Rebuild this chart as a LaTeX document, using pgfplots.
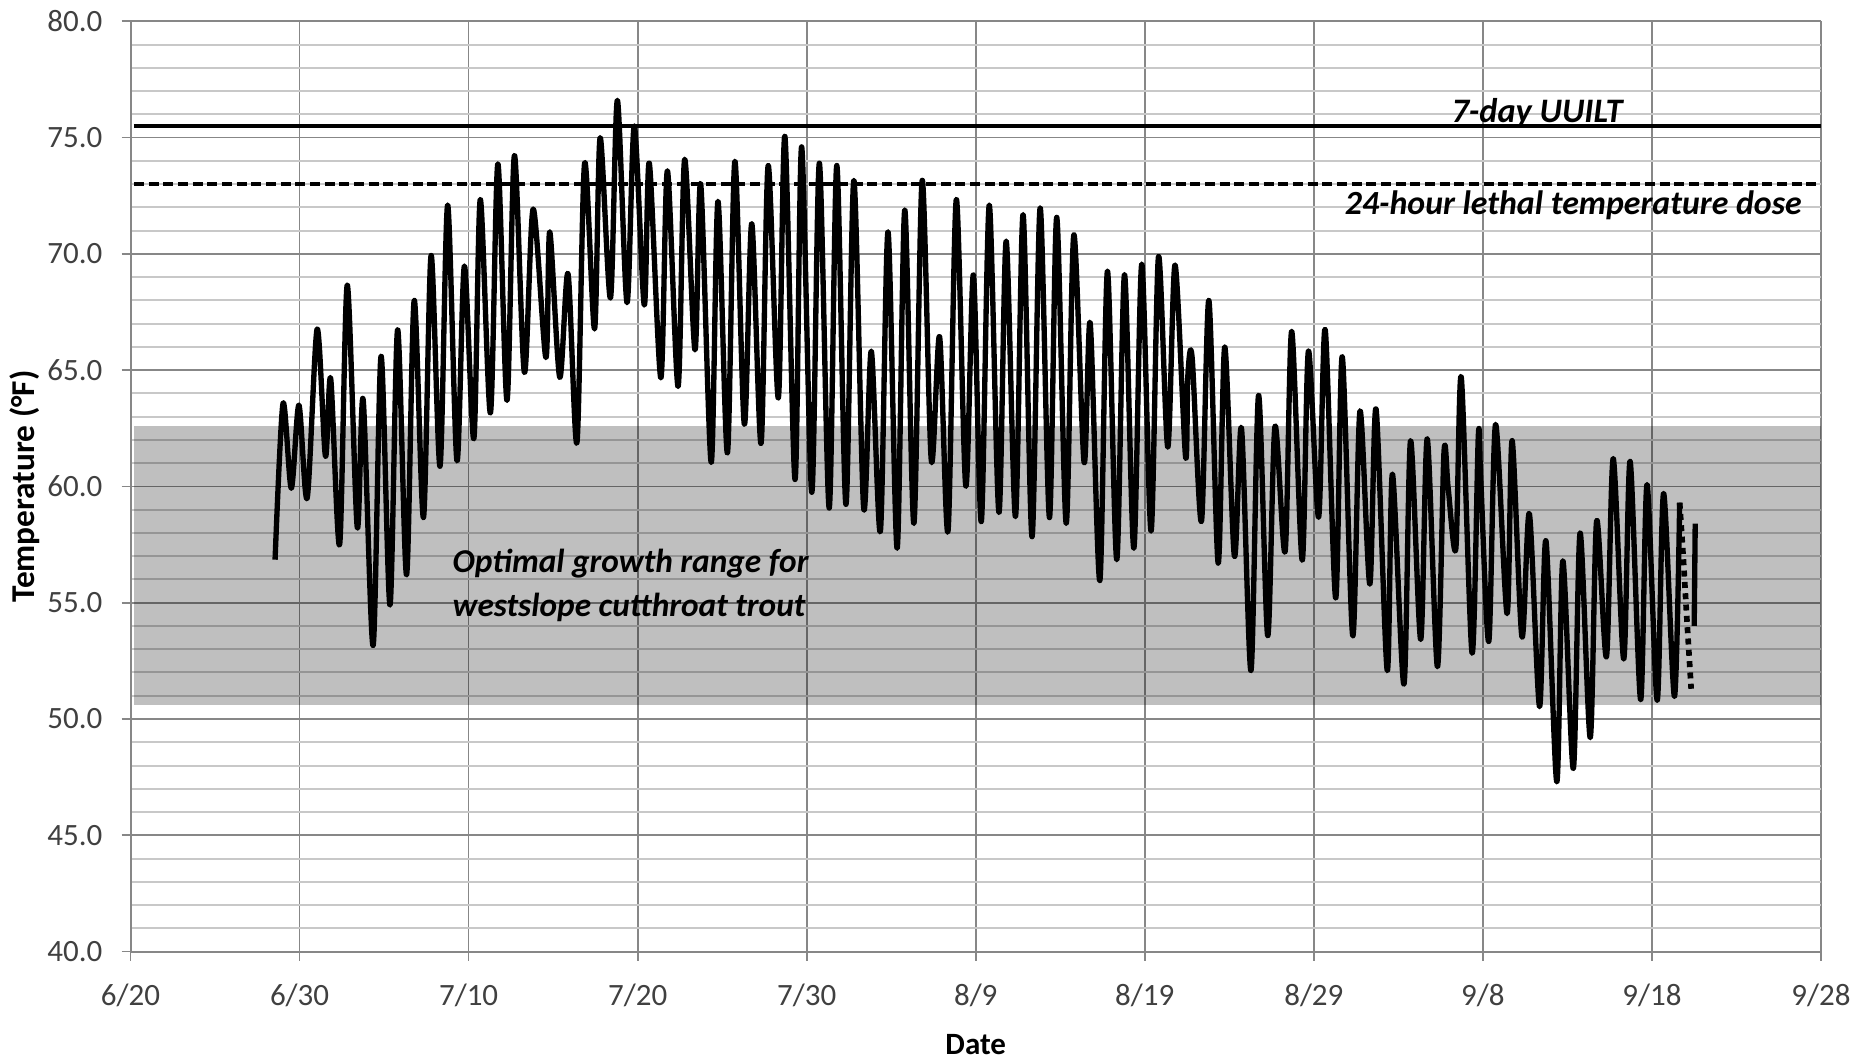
\documentclass[border=0pt]{standalone}
\usepackage{pgfplots}
\pgfplotsset{compat=1.18}
\usepackage{fontspec}
\setmainfont{Carlito}
\definecolor{majgrid}{HTML}{878787}
\definecolor{mingrid}{HTML}{C8C8C8}
\definecolor{ticktext}{HTML}{404040}
\begin{document}
\begin{tikzpicture}
\begin{axis}[
  scale only axis,
  width=507pt, height=279pt,
  xmin=0, xmax=100, ymin=40, ymax=80,
  clip=false,
  axis lines=left,
  axis line style={-, majgrid, line width=0.6pt},
  xtick={0,10,...,100},
  xticklabels={6/20,6/30,7/10,7/20,7/30,8/9,8/19,8/29,9/8,9/18,9/28},
  ytick={40,45,...,80},
  minor y tick num=4,
  xmajorgrids, ymajorgrids, yminorgrids,
  major grid style={majgrid, line width=0.5pt},
  minor grid style={mingrid, line width=0.6pt},
  tick align=outside,
  major tick length=2.7pt,
  minor tick length=0pt,
  tick style={majgrid, line width=0.5pt},
  /pgf/number format/assume math mode=true,
  /pgf/number format/fixed,
  /pgf/number format/fixed zerofill,
  /pgf/number format/precision=1,
  tick label style={font=\fontsize{9.3}{11}\selectfont, color=ticktext},
  xticklabel style={yshift=-3.5pt},
  yticklabel style={xshift=-2.2pt},
  xlabel={Date},
  ylabel={Temperature (°F)},
  label style={font=\fontsize{9.3}{11}\selectfont\bfseries},
  xlabel style={at={(axis description cs:0.5,0)}, anchor=center, yshift=-27.9pt},
  ylabel style={at={(axis description cs:0,0.5)}, anchor=center, yshift=31.6pt, font=\fontsize{10}{12}\selectfont\bfseries},
]
% optimal growth band
\addplot[draw=none, fill=black, fill opacity=0.25] coordinates {(0.2,50.6) (100,50.6) (100,62.6) (0.2,62.6)} -- cycle;
% reference lines
\addplot[black, line width=1.3pt] coordinates {(0.2,75.5) (100,75.5)};
\addplot[black, line width=1.3pt, dash pattern=on 3pt off 1.4pt] coordinates {(0.2,73.0) (100,73.0)};
% temperature record
\addplot[black, line width=1.6pt, smooth, tension=0.5, line join=round] coordinates {
(8.55,56.85) (9.02,63.57) (9.51,59.92) (9.96,63.5) (10.45,59.5) (11.04,66.77) (11.53,61.3) (11.84,64.64)
(12.37,57.5) (12.82,68.66) (13.41,58.25) (13.76,63.74) (14.35,53.16) (14.82,65.6) (15.35,54.9) (15.8,66.74)
(16.33,56.2) (16.78,68.0) (17.33,58.66) (17.78,69.93) (18.31,60.87) (18.76,72.1) (19.31,61.1) (19.75,69.48)
(20.31,62.05) (20.69,72.34) (21.29,63.16) (21.73,73.87) (22.27,63.7) (22.71,74.23) (23.3,64.9) (23.82,71.93)
(24.57,65.54) (24.8,70.95) (25.39,64.69) (25.88,69.15) (26.41,61.89) (26.86,73.9) (27.45,66.77) (27.78,75.0)
(28.39,68.1) (28.8,76.6) (29.37,67.9) (29.8,75.5) (30.39,67.8) (30.69,73.9) (31.37,64.67) (31.76,73.57)
(32.39,64.3) (32.78,74.07) (33.39,65.87) (33.73,73.0) (34.35,61.03) (34.75,72.26) (35.31,61.44) (35.75,73.98)
(36.31,62.67) (36.75,71.3) (37.3,61.85) (37.72,73.8) (38.32,63.8) (38.71,75.05) (39.31,60.3) (39.7,74.6)
(40.3,59.75) (40.75,73.9) (41.33,59.07) (41.78,73.8) (42.32,59.23) (42.79,73.16) (43.37,59.07) (43.82,65.82)
(44.36,58.08) (44.81,70.95) (45.35,57.34) (45.8,71.89) (46.34,58.41) (46.83,73.16) (47.37,61.11) (47.86,66.44)
(48.36,58.08) (48.85,72.34) (49.41,60.02) (49.86,69.1) (50.33,58.49) (50.8,72.1) (51.37,58.88) (51.8,70.55)
(52.35,58.7) (52.8,71.69) (53.33,57.84) (53.81,71.98) (54.36,58.66) (54.79,71.57) (55.35,58.41) (55.8,70.82)
(56.41,61.03) (56.77,67.02) (57.34,55.95) (57.79,69.26) (58.34,56.85) (58.8,69.11) (59.35,57.34) (59.82,69.56)
(60.37,58.08) (60.81,69.89) (61.36,61.69) (61.79,69.52) (62.41,61.28) (62.55,64.8) (62.8,65.54) (63.35,58.49)
(63.79,68.0) (64.34,56.7) (64.73,66.0) (65.3,57.0) (65.72,62.5) (66.28,52.08) (66.73,63.92) (67.27,53.58)
(67.7,62.58) (68.3,57.2) (68.69,66.67) (69.31,56.83) (69.68,65.83) (70.28,58.67) (70.67,66.75) (71.29,55.2)
(71.68,65.58) (72.3,53.58) (72.73,63.25) (73.31,55.8) (73.68,63.33) (74.34,52.08) (74.65,60.53) (75.33,51.5)
(75.72,61.97) (76.32,53.42) (76.71,62.05) (77.31,52.25) (77.7,61.5) (77.95,59.9) (78.4,57.33) (78.72,64.7)
(79.36,52.83) (79.73,62.2) (79.88,60.2) (80.35,53.33) (80.75,62.67) (81.43,54.53) (81.73,61.97) (82.31,53.53)
(82.75,58.83) (83.35,50.53) (83.73,57.67) (84.37,47.3) (84.73,56.8) (85.35,47.87) (85.75,58.0) (86.35,49.2)
(86.73,58.53) (87.31,52.67) (87.71,61.2) (88.33,52.58) (88.71,61.08) (89.33,50.83) (89.71,60.08) (90.31,50.8)
(90.69,59.7) (91.33,50.97) (91.64,59.3)
};
% gap in record (dotted)
\addplot[black, line width=1.7pt, dash pattern=on 1.8pt off 1.6pt] coordinates {(91.64,59.3) (91.85,57.0) (92.05,54.5) (92.32,51.3)};
\addplot[black, line width=1.6pt] coordinates {(92.5,54.0) (92.56,58.4)};
% annotations
\node[font=\fontsize{10.3}{12}\selectfont\bfseries\itshape, inner sep=0pt] at (axis cs:83.2,76.04) {7-day UUILT};
\node[font=\fontsize{10.15}{12}\selectfont\bfseries\itshape, inner sep=0pt] at (axis cs:85.35,72.09) {24-hour lethal temperature dose};
\node[font=\fontsize{10.0}{13.2}\selectfont\bfseries\itshape, inner sep=0pt, anchor=west, align=left] at (axis cs:19.02,55.75) {Optimal growth range for\\westslope cutthroat trout};
\end{axis}
\pgfresetboundingbox
\path[use as bounding box] ([shift={(-39.15pt,-31.7pt)}]current axis.south west) rectangle ([shift={(11.7pt,6.4pt)}]current axis.north east);
\end{tikzpicture}
\end{document}
